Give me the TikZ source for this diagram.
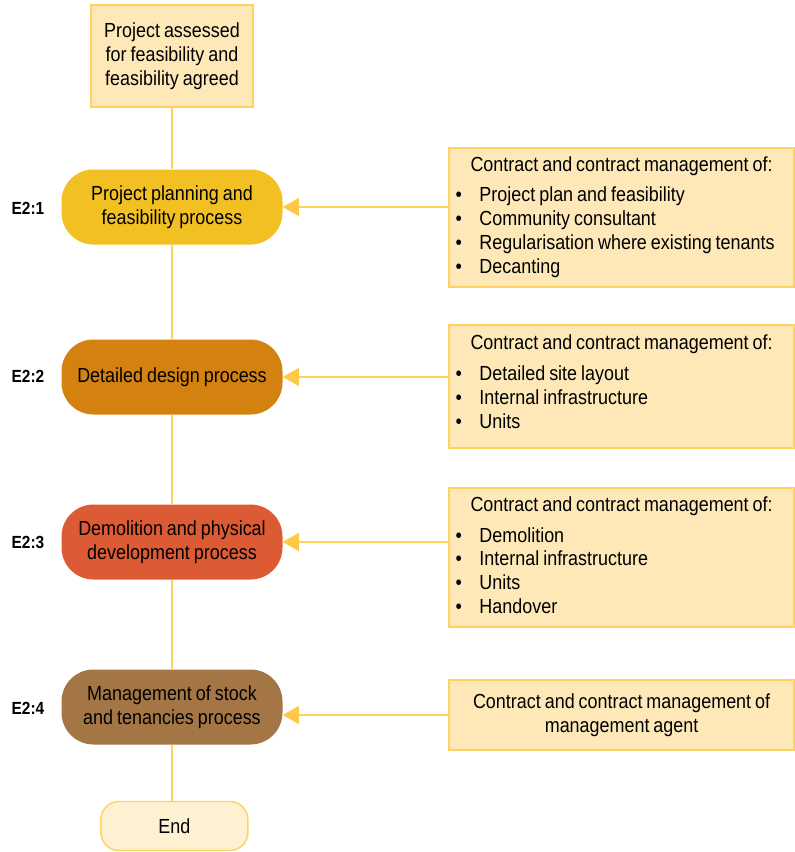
\documentclass[tikz,border=0pt]{standalone}
\usepackage{fontspec}
\setmainfont{Liberation Sans}[FakeStretch=0.88,WordSpace=0.8]
\usetikzlibrary{arrows.meta,positioning,calc}

\definecolor{boxfill}{HTML}{FEE8B7}
\definecolor{boxline}{HTML}{FDD25E}
\definecolor{stepA}{HTML}{F2C023}
\definecolor{stepB}{HTML}{D4820F}
\definecolor{stepC}{HTML}{DC5B35}
\definecolor{stepD}{HTML}{A47646}
\definecolor{endfill}{HTML}{FEF1D2}
\definecolor{arrowgold}{HTML}{FFC845}

\newcommand{\bul}{\makebox[17pt][l]{\textbullet}}
\newcommand{\ctrhead}{\makebox[8.3cm]{Contract and contract management of:}}

\begin{document}
\begin{tikzpicture}
\tikzstyle{box} = [draw=boxline, fill=boxfill, line width=1pt, rectangle, text centered, font=\fontsize{14.5}{17}\selectfont]
\tikzstyle{stage} = [draw=none, rectangle, rounded corners=0.8cm, minimum width=5.525cm, minimum height=1.875cm, align=center, font=\fontsize{14.5}{17}\selectfont]
\tikzstyle{contract} = [box, minimum width=8.625cm, inner xsep=0.16cm]
\tikzstyle{tag} = [font=\bfseries\fontsize{12.5}{14}\selectfont]
\tikzstyle{link} = [draw=boxline, line width=1pt]
\tikzstyle{feed} = [draw=boxline, line width=1pt, -{Triangle[length=0.4cm,width=0.45cm,color=arrowgold]}]

\useasboundingbox (0,0) rectangle (19.85,-21.3);

% main line
\node[box, minimum width=4.05cm, minimum height=2.55cm, align=center] (start) at (4.3,-1.4) {Project assessed\\for feasibility and\\feasibility agreed};
\node[stage, fill=stepA] (plan) at (4.3,-5.175) {Project planning and\\feasibility process};
\node[stage, fill=stepB] (design) at (4.3,-9.425) {Detailed design process};
\node[stage, fill=stepC] (build) at (4.3,-13.55) {Demolition and physical\\development process};
\node[stage, fill=stepD] (manage) at (4.3,-17.675) {Management of stock\\and tenancies process};
\node[box, fill=endfill, rounded corners=0.45cm, minimum width=3.675cm, minimum height=1.225cm] (finish) at (4.36,-20.65) {End};

\node[tag] (tagA) at (0.7,-5.2) {E2:1};
\node[tag] (tagB) at (0.7,-9.4) {E2:2};
\node[tag] (tagC) at (0.7,-13.55) {E2:3};
\node[tag] (tagD) at (0.7,-17.7) {E2:4};

% contract boxes
\node[contract, minimum height=3.475cm] (ctrA) at (15.54,-5.44) {\begin{tabular}{@{}l@{}}\ctrhead\\[5pt]
\bul Project plan and feasibility\\
\bul Community consultant\\
\bul Regularisation where existing tenants\\
\bul Decanting\end{tabular}};
\node[contract, minimum height=3.075cm] (ctrB) at (15.54,-9.66) {\begin{tabular}{@{}l@{}}\ctrhead\\[5pt]
\bul Detailed site layout\\
\bul Internal infrastructure\\
\bul Units\\[-14pt]\mbox{}\end{tabular}};
\node[contract, minimum height=3.475cm] (ctrC) at (15.54,-13.94) {\begin{tabular}{@{}l@{}}\ctrhead\\[5pt]
\bul Demolition\\
\bul Internal infrastructure\\
\bul Units\\
\bul Handover\end{tabular}};
\node[box, minimum width=8.625cm, minimum height=1.75cm, align=center] (ctrD) at (15.54,-17.875) {Contract and contract management of\\management agent};

\draw[link] (start) -- (plan);
\draw[link] (plan) -- (design);
\draw[link] (design) -- (build);
\draw[link] (build) -- (manage);
\draw[link] (manage.south) -- (manage.south |- finish.north);

\draw[feed] (ctrA.west |- plan.east) -- (plan.east);
\draw[feed] (ctrB.west |- design.east) -- (design.east);
\draw[feed] (ctrC.west |- build.east) -- (build.east);
\draw[feed] (ctrD.west) -- (ctrD.west -| manage.east);
\end{tikzpicture}
\end{document}
